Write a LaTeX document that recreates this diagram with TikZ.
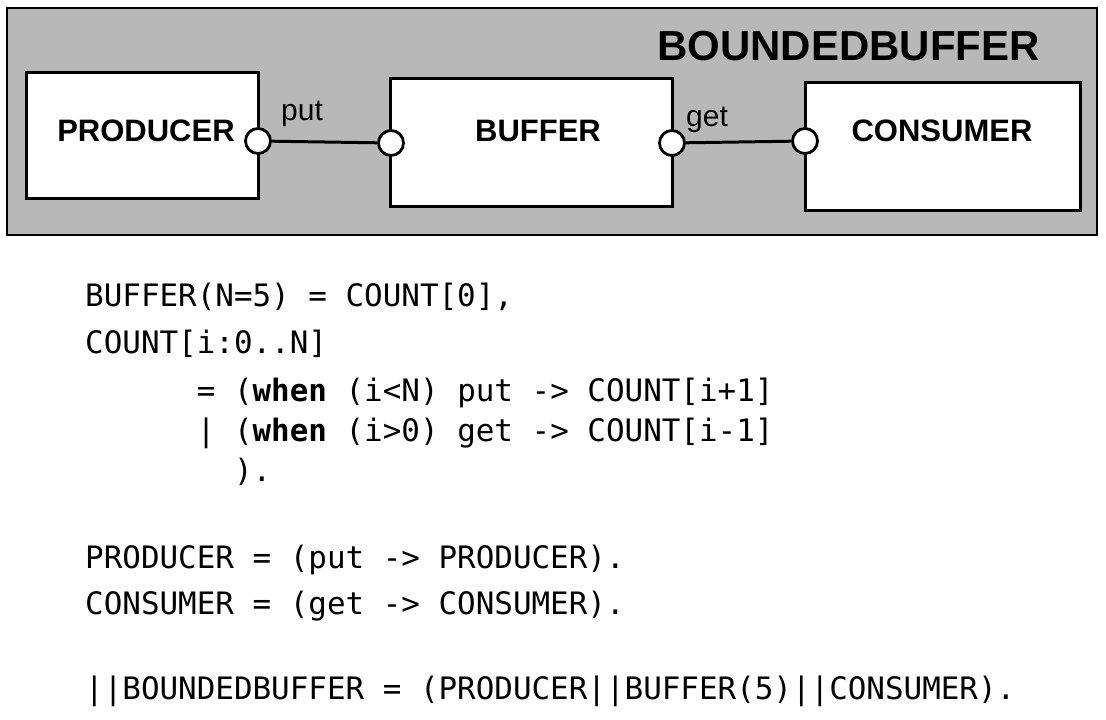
\documentclass[tikz,border=0pt]{standalone}
\usepackage{fontspec}
\setmainfont{Liberation Sans}
\setmonofont{DejaVu Sans Mono}
\usetikzlibrary{positioning}
\definecolor{panelgrey}{RGB}{184,184,184}

\begin{document}
\begin{tikzpicture}[x=1pt,y=-1pt,
        comp/.style={draw,line width=3pt,fill=white,inner sep=0pt},
        port/.style={circle,draw,line width=2.8pt,fill=white,minimum size=25pt,inner sep=0pt},
        complbl/.style={anchor=base,font=\bfseries\fontsize{31}{36}\selectfont},
        portlbl/.style={anchor=base,font=\fontsize{30}{36}\selectfont},
        code/.style={anchor=base west,inner sep=0pt,font=\ttfamily\fontsize{30.9}{36}\selectfont}]
        \useasboundingbox (0,0) rectangle (1106,720);

        % Composite panel
        \draw[line width=2.4pt,fill=panelgrey] (7,8) rectangle (1097,235);
        \node[anchor=base east,inner sep=0pt,font=\bfseries\fontsize{42}{48}\selectfont] (title) at (1040,60) {BOUNDEDBUFFER};

        % Components
        \node[comp,minimum width=232pt,minimum height=126pt] (producer) at (142,135) {};
        \node[comp,minimum width=282pt,minimum height=128pt] (buffer) at (531,142) {};
        \node[comp,minimum width=275pt,minimum height=128pt] (consumer) at (942.5,146) {};
        \node[complbl] (producerlbl) at (146,141) {PRODUCER};
        \node[complbl] (bufferlbl) at (538,141) {BUFFER};
        \node[complbl] (consumerlbl) at (942,141) {CONSUMER};

        % Ports and bindings
        \node[port] (prodput) at (258,141) {};
        \node[port] (bufput) at (391,143) {};
        \node[port] (bufget) at (672,143) {};
        \node[port] (consget) at (805,141) {};
        \draw[line width=3pt] (prodput) -- (bufput);
        \draw[line width=3pt] (bufget) -- (consget);
        \node[portlbl] (putlbl) at (302,120) {put};
        \node[portlbl] (getlbl) at (707,126) {get};

        % FSP text
        \node[code] (l1) at (85,306) {BUFFER(N=5) = COUNT[0],};
        \node[code] (l2) at (85,353) {COUNT[i:0..N]};
        \node[code] (l3) at (85,401) {~~~~~~= (\textbf{when} (i<N) put -> COUNT[i+1]};
        \node[code] (l4) at (85,441) {~~~~~~| (\textbf{when} (i>0) get -> COUNT[i-1]};
        \node[code] (l5) at (85,481) {~~~~~~~~).};
        \node[code] (l6) at (85,568) {PRODUCER = (put -> PRODUCER).};
        \node[code] (l7) at (85,614) {CONSUMER = (get -> CONSUMER).};
        \node[code] (l8) at (85,699) {||BOUNDEDBUFFER = (PRODUCER||BUFFER(5)||CONSUMER).};
\end{tikzpicture}
\end{document}
